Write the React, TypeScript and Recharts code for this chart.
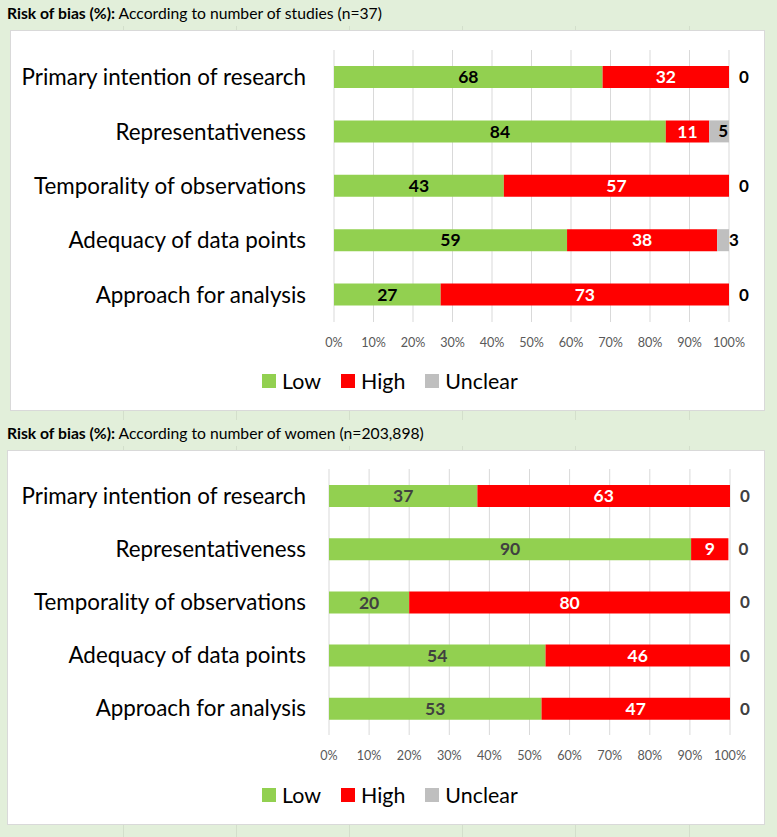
import React from 'react'
import { BarChart, Bar, XAxis, YAxis, CartesianGrid, Legend, LabelList } from 'recharts'

const domains = [
    'Primary intention of research',
    'Representativeness',
    'Temporality of observations',
    'Adequacy of data points',
    'Approach for analysis',
]

// by number of studies (n=37)
const studiesLow = [68, 84, 43, 59, 27]
const studiesHigh = [32, 11, 57, 38, 73]
const studiesUnclear = [0, 5, 0, 3, 0]

// by number of women (n=203,898)
const womenLow = [37, 90.3, 20, 54, 53]
const womenHigh = [63, 9.3, 80, 46, 47]
const womenUnclear = [0, 0, 0, 0, 0]

const percentTicks = [0, 10, 20, 30, 40, 50, 60, 70, 80, 90, 100]
const legendOrder = ['Low', 'High', 'Unclear']

const FONT = 'Lato, "Open Sans", sans-serif'
const GREEN = '#92d050'
const RED = '#ff0000'
const GREY = '#bfbfbf'

const buildRows = (low: number[], high: number[], unclear: number[]) =>
    domains.map((name, i) => ({ name, low: low[i], high: high[i], unclear: unclear[i] }))

const studiesRows = buildRows(studiesLow, studiesHigh, studiesUnclear)
const womenRows = buildRows(womenLow, womenHigh, womenUnclear)

const fmt = (v: any) => Math.round(Number(v))

// non-zero "unclear" labels, drawn on the grey segment
const makeUnclearLabel = (color: string) => (props: any) => {
    const { x, y, width, height, value } = props
    const v = Number(value)
    if (!v) return null
    const cx = width < 14 ? x + width + 5 : x + width / 2 + 4
    return (
        <text x={cx} y={y + height / 2} dy="0.35em" textAnchor="middle" fill={color}
            fontFamily={FONT} fontSize={17} fontWeight="bold">
            {fmt(v)}
        </text>
    )
}

// zero "unclear" labels, hung off the end of the red segment
const makeZeroLabel = (color: string) => (props: any) => {
    const { x, y, width, height, value } = props
    if (Number(value) !== 0) return null
    return (
        <text x={x + width + 15} y={y + height / 2} dy="0.35em" textAnchor="middle" fill={color}
            fontFamily={FONT} fontSize={17} fontWeight="bold">
            0
        </text>
    )
}

const makeLegend = (padLeft: number, height: number) => (props: any) => {
    const items = [...(props.payload || [])].sort(
        (a: any, b: any) => legendOrder.indexOf(a.value) - legendOrder.indexOf(b.value)
    )
    return (
        <div style={{ height, display: 'flex', alignItems: 'center', paddingLeft: padLeft, fontFamily: FONT, fontSize: 21.4, color: '#000' }}>
            {items.map((it: any) => (
                <span key={it.value} style={{ display: 'inline-flex', alignItems: 'center', marginRight: 20 }}>
                    <span style={{ width: 14, height: 14, background: it.color, marginRight: 6, display: 'inline-block' }} />
                    {it.value}
                </span>
            ))}
        </div>
    )
}

type ChartProps = {
    rows: any[]
    width: number
    height: number
    top: number
    right: number
    axisWidth: number
    labelGap: number
    lowLabel: string
    legendPad: number
    legendHeight: number
}

const RiskChart = ({ rows, width, height, top, right, axisWidth, labelGap, lowLabel, legendPad, legendHeight }: ChartProps) => (
    <BarChart
        width={width}
        height={height}
        data={rows}
        layout="vertical"
        margin={{ top, right, left: 0, bottom: 0 }}
    >
        <CartesianGrid horizontal={false} stroke="#d9d9d9" />
        <XAxis
            type="number"
            domain={[0, 100]}
            ticks={percentTicks}
            tickFormatter={(v) => `${v}%`}
            axisLine={false}
            tickLine={false}
            tickMargin={10}
            height={30}
            tick={{ fill: '#595959', fontSize: 12.6, fontFamily: FONT }}
            interval={0}
        />
        <YAxis
            type="category"
            dataKey="name"
            width={axisWidth}
            axisLine={false}
            tickLine={false}
            tickSize={0}
            tickMargin={labelGap}
            tick={{ fill: '#000', fontSize: 22.4, fontFamily: FONT }}
        />
        <Legend verticalAlign="bottom" itemSorter={null as any} content={makeLegend(legendPad, legendHeight)} wrapperStyle={{ left: 0, width }} />
        <Bar dataKey="low" name="Low" stackId="a" fill={GREEN} barSize={22} isAnimationActive={false}>
            <LabelList dataKey="low" position="center" fill={lowLabel} fontFamily={FONT} fontSize={17.5} fontWeight="bold" formatter={fmt} />
        </Bar>
        <Bar dataKey="high" name="High" stackId="a" fill={RED} barSize={22} isAnimationActive={false}>
            <LabelList dataKey="high" position="center" fill="#fff" fontFamily={FONT} fontSize={17.5} fontWeight="bold" formatter={fmt} />
            <LabelList dataKey="unclear" content={makeZeroLabel(lowLabel)} />
        </Bar>
        <Bar dataKey="unclear" name="Unclear" stackId="a" fill={GREY} barSize={22} isAnimationActive={false}>
            <LabelList dataKey="unclear" content={makeUnclearLabel(lowLabel)} />
        </Bar>
    </BarChart>
)

const Title = ({ top, who }: { top: number; who: string }) => (
    <div style={{ position: 'absolute', left: 0, top, width: 777, height: 26, background: '#e2efda', fontFamily: FONT, fontSize: 15.7, color: '#000', paddingLeft: 7, boxSizing: 'border-box', lineHeight: '26px' }}>
        <b>Risk of bias (%):</b> According to number of {who}
    </div>
)

const cellLines = [122.5, 235.7, 348.8, 462, 575.3, 688.5]

export default function App() {
    return (
        <div style={{ position: 'absolute', left: 0, top: 0, width: 777, height: 837, background: '#e2efda', overflow: 'hidden' }}>
            {cellLines.map((x) => (
                <div key={x} style={{ position: 'absolute', left: x, top: 0, width: 1, height: 837, background: '#d3dfcb' }} />
            ))}
            <Title top={0} who="studies (n=37)" />
            <Title top={420} who="women (n=203,898)" />
            <div style={{ position: 'absolute', left: 10, top: 30, width: 755, height: 381, background: '#fff', border: '1px solid #d9d9d9', boxSizing: 'border-box' }}>
                <RiskChart rows={studiesRows} width={753} height={379} top={19} right={35} axisWidth={323}
                    labelGap={28} lowLabel="#000" legendPad={251} legendHeight={58} />
            </div>
            <div style={{ position: 'absolute', left: 7, top: 450, width: 758, height: 375, background: '#fff', border: '1px solid #d9d9d9', boxSizing: 'border-box' }}>
                <RiskChart rows={womenRows} width={756} height={373} top={18} right={34} axisWidth={321}
                    labelGap={23} lowLabel="#404040" legendPad={254} legendHeight={59} />
            </div>
        </div>
    )
}
